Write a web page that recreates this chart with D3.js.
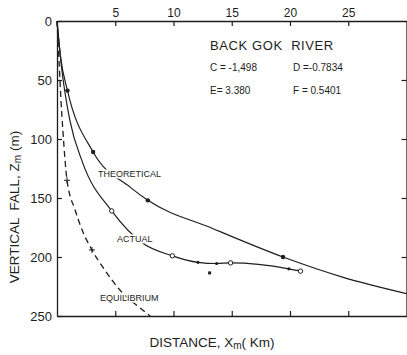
<!DOCTYPE html>
<html>
<head>
  <meta charset="utf-8">
  <title>Back Gok River</title>
  <script src="https://cdnjs.cloudflare.com/ajax/libs/d3/7.8.5/d3.min.js"></script>
</head>
<style>
  body { margin: 0; background: #fff; }
  svg { display: block; }
  text { font-family: "Liberation Sans", Arial, sans-serif; fill: #1e1e1e; }
  .tick line { stroke: #1e1e1e; stroke-width: 1.2; }
  .domain { stroke: #1e1e1e; stroke-width: 1.3; }
</style>
<body>
<svg id="svg" width="407" height="355"></svg>
<script>
  // distance (km), vertical fall (m)
  const theoretical = [[0,0],[0.3,30],[0.9,59],[3.1,111],[6.3,141],[7.8,152],[13.4,176],[19.4,200],[24.5,217],[30,231]];
  const actual = [[0,0],[0.4,40],[1.1,84],[2.2,120],[4.7,161],[7.3,188],[9.9,199],[12.1,204.5],[13.7,205.5],[14.9,205],[19.9,210],[20.9,212]];
  const equilibrium = [[0,0],[0.17,33],[0.34,67],[0.5,92],[0.86,135],[1.55,160],[2.15,177],[3.0,194],[4.1,211],[5.4,228],[7.1,243],[8.0,250]];

  const theoMarks = [[0.9,59],[3.1,111],[7.8,152],[19.4,200]];
  const actualOpen = [[4.7,161],[9.9,199],[14.9,205],[20.9,212]];
  const actualDots = [[12.1,204.5],[13.7,205.5],[19.9,210]];
  const equilPlus = [[0.86,135],[3.0,194]];
  const stray = [[13.1,213.5]];

  const xTicks = [5, 10, 15, 20, 25];
  const yTicks = [0, 50, 100, 150, 200, 250];
  const coefs = ['C = -1,498', 'D =-0.7834', 'E= 3.380', 'F = 0.5401'];

  const ink = '#1e1e1e';
  const svg = d3.select('svg');
  const x = d3.scaleLinear().domain([0, 30]).range([57, 406.5]);
  const y = d3.scaleLinear().domain([0, 250]).range([21, 316]);

  // frame: ticks point inward on all four sides
  svg.append('g').attr('transform', `translate(0,${y(0)})`)
    .call(d3.axisTop(x).tickValues(xTicks).tickSize(-5).tickSizeOuter(0).tickPadding(4))
    .call(g => g.selectAll('text').style('font-size', '12px'));
  svg.append('g').attr('transform', `translate(0,${y(250)})`)
    .call(d3.axisBottom(x).tickValues(xTicks).tickSize(-5).tickSizeOuter(0).tickFormat(''));
  svg.append('g').attr('transform', `translate(${x(0)},0)`)
    .call(d3.axisLeft(y).tickValues(yTicks).tickSize(-5).tickSizeOuter(0).tickPadding(5))
    .call(g => g.selectAll('text').style('font-size', '13px'));
  svg.append('g').attr('transform', `translate(${x(30)},0)`)
    .call(d3.axisRight(y).tickValues(yTicks.slice(1, -1)).tickSize(-5).tickSizeOuter(0).tickFormat(''));
  svg.selectAll('.domain').attr('stroke', ink);

  const line = d3.line().x(d => x(d[0])).y(d => y(d[1])).curve(d3.curveMonotoneX);

  svg.append('path').attr('d', line(equilibrium))
    .attr('fill', 'none').attr('stroke', ink).attr('stroke-width', 1.3).attr('stroke-dasharray', '6,4');
  svg.append('path').attr('d', line(actual))
    .attr('fill', 'none').attr('stroke', ink).attr('stroke-width', 1.2);
  svg.append('path').attr('d', line(theoretical))
    .attr('fill', 'none').attr('stroke', ink).attr('stroke-width', 1.2);

  svg.selectAll('.theo').data(theoMarks).enter().append('circle')
    .attr('cx', d => x(d[0])).attr('cy', d => y(d[1])).attr('r', 2.2).attr('fill', ink);
  svg.selectAll('.aopen').data(actualOpen).enter().append('circle')
    .attr('cx', d => x(d[0])).attr('cy', d => y(d[1])).attr('r', 2.2)
    .attr('fill', '#fff').attr('stroke', ink).attr('stroke-width', 1);
  svg.selectAll('.adot').data(actualDots).enter().append('circle')
    .attr('cx', d => x(d[0])).attr('cy', d => y(d[1])).attr('r', 1.6).attr('fill', ink);
  svg.selectAll('.plus').data(equilPlus).enter().append('path')
    .attr('d', d => `M${x(d[0]) - 3},${y(d[1])}h6M${x(d[0])},${y(d[1]) - 3}v6`)
    .attr('stroke', ink).attr('stroke-width', 1);
  svg.selectAll('.stray').data(stray).enter().append('rect')
    .attr('x', d => x(d[0]) - 1.5).attr('y', d => y(d[1]) - 1.5)
    .attr('width', 3).attr('height', 3).attr('fill', ink);

  // curve labels, white halo breaks the line underneath
  const curveLabel = (t, px, py) => svg.append('text').text(t)
    .attr('x', px).attr('y', py).style('font-size', '9px')
    .attr('stroke', '#fff').attr('stroke-width', 3).attr('paint-order', 'stroke');
  curveLabel('THEORETICAL', 98, 177);
  curveLabel('ACTUAL', 117, 242);
  curveLabel('EQUILIBRIUM', 100, 301);

  svg.append('text').text('BACK GOK  RIVER')
    .attr('x', 210).attr('y', 50).style('font-size', '13px')
    .style('letter-spacing', '0.6px').style('white-space', 'pre');
  svg.selectAll('.coef').data(coefs).enter().append('text')
    .text(d => d)
    .attr('x', (d, i) => i % 2 ? 293 : 210)
    .attr('y', (d, i) => i < 2 ? 71 : 94)
    .style('font-size', '10px').style('white-space', 'pre');

  const xt = svg.append('text').attr('x', 212).attr('y', 347)
    .attr('text-anchor', 'middle').style('font-size', '13.5px');
  xt.append('tspan').text('DISTANCE, X');
  xt.append('tspan').text('m').attr('dy', 2).style('font-size', '10px');
  xt.append('tspan').text('( Km)').attr('dy', -2);

  const yt = svg.append('text').attr('transform', 'translate(19,207) rotate(-90)')
    .attr('text-anchor', 'middle').style('font-size', '13.5px');
  yt.append('tspan').text('VERTICAL  FALL, Z').style('white-space', 'pre');
  yt.append('tspan').text('m').attr('dy', 2).style('font-size', '10px');
  yt.append('tspan').text(' (m)').attr('dy', -2).style('white-space', 'pre');
</script>
</body>
</html>
